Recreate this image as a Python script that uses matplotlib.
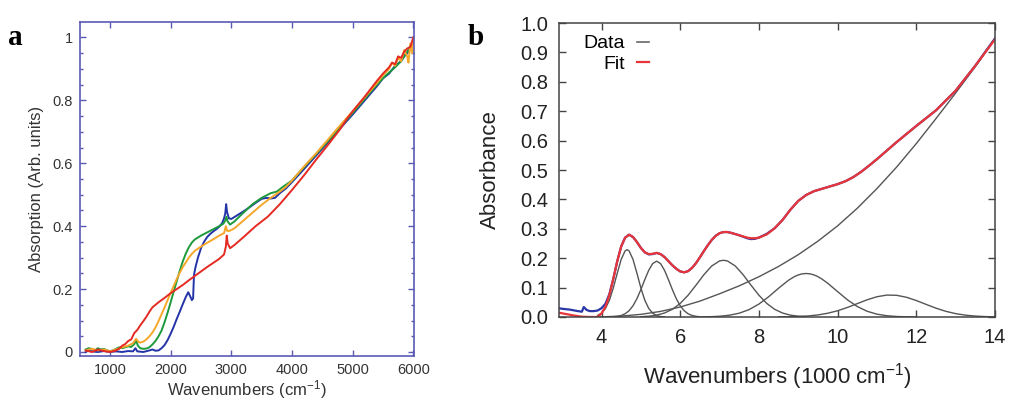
import matplotlib
matplotlib.use("Agg")
import matplotlib.pyplot as plt
from matplotlib.lines import Line2D
from matplotlib.ticker import MultipleLocator, FixedLocator

plt.rcParams['font.family'] = ['Liberation Sans', 'DejaVu Sans']
plt.rcParams['mathtext.fontset'] = 'custom'
plt.rcParams['mathtext.rm'] = 'Liberation Sans'
plt.rcParams['mathtext.it'] = 'Liberation Sans:italic'

# ---- panel a: four spectra (wavenumber in cm-1, absorption) ----
blue_x = [600, 650, 700, 800, 900, 1000, 1100, 1200, 1300, 1380, 1420, 1450, 1550, 1650, 1700,
          1750, 1800, 1850, 1900, 1950, 2000, 2050, 2100, 2150, 2200, 2250, 2290, 2320, 2350,
          2370, 2385, 2410, 2450, 2500, 2550, 2600, 2650, 2700, 2750, 2800, 2850, 2880, 2900,
          2915, 2930, 2960, 3000, 3100, 3200, 3300, 3400, 3500, 3580, 3650, 3720, 3800, 3900,
          4000, 4200, 4400, 4600, 4800, 5000, 5200, 5400, 5500, 5600, 5700, 5800, 5850, 5900,
          5950, 6000]
blue_y = [0.0, 0.005, 0.002, 0.0, 0.003, 0.0, 0.002, 0.0, 0.003, 0.002, 0.012, 0.002, 0.0, 0.005,
          0.008, 0.004, 0.005, 0.012, 0.022, 0.038, 0.058, 0.08, 0.105, 0.128, 0.152, 0.175, 0.19,
          0.178, 0.165, 0.17, 0.245, 0.27, 0.3, 0.33, 0.35, 0.365, 0.375, 0.383, 0.39, 0.398, 0.41,
          0.425, 0.44, 0.47, 0.445, 0.425, 0.423, 0.435, 0.447, 0.46, 0.474, 0.487, 0.49, 0.488,
          0.49, 0.505, 0.52, 0.54, 0.582, 0.625, 0.668, 0.712, 0.755, 0.8, 0.845, 0.87, 0.885,
          0.91, 0.925, 0.94, 0.95, 0.965, 0.98]

green_x = [600, 650, 700, 750, 800, 850, 900, 950, 1000, 1050, 1100, 1150, 1200, 1250, 1300, 1350,
           1400, 1430, 1460, 1500, 1550, 1600, 1650, 1700, 1750, 1800, 1850, 1900, 1950, 2000,
           2050, 2100, 2150, 2200, 2250, 2300, 2350, 2400, 2500, 2600, 2700, 2800, 2870, 2900,
           2920, 2940, 2980, 3050, 3200, 3350, 3500, 3650, 3750, 3850, 4000, 4200, 4400, 4600,
           4800, 5000, 5200, 5400, 5550, 5700, 5800, 5850, 5900, 5950, 6000]
green_y = [0.008, 0.012, 0.01, 0.005, 0.012, 0.008, 0.01, 0.005, 0.003, 0.005, 0.01, 0.015, 0.012,
           0.015, 0.018, 0.016, 0.025, 0.037, 0.02, 0.012, 0.01, 0.011, 0.015, 0.024, 0.035, 0.05,
           0.068, 0.095, 0.125, 0.158, 0.192, 0.225, 0.258, 0.288, 0.313, 0.333, 0.348, 0.358,
           0.37, 0.38, 0.39, 0.4, 0.408, 0.418, 0.43, 0.415, 0.405, 0.415, 0.443, 0.47, 0.49,
           0.505, 0.51, 0.525, 0.545, 0.588, 0.63, 0.672, 0.716, 0.76, 0.805, 0.85, 0.88, 0.905,
           0.925, 0.94, 0.955, 0.97, 0.99]

orange_x = [600, 700, 800, 900, 1000, 1100, 1200, 1300, 1380, 1430, 1470, 1500, 1550, 1600, 1650,
            1700, 1750, 1800, 1850, 1900, 1950, 2000, 2050, 2100, 2150, 2200, 2250, 2300, 2350,
            2400, 2500, 2600, 2700, 2800, 2880, 2910, 2930, 2970, 3050, 3200, 3350, 3500, 3650,
            3800, 3900, 4000, 4200, 4400, 4600, 4800, 5000, 5200, 5400, 5500, 5600, 5650, 5700,
            5750, 5800, 5850, 5900, 5920, 5950, 5980, 6000]
orange_y = [0.005, 0.01, 0.005, 0.008, 0.002, 0.008, 0.015, 0.02, 0.028, 0.042, 0.032, 0.03, 0.033,
            0.04, 0.05, 0.062, 0.078, 0.098, 0.12, 0.142, 0.165, 0.188, 0.21, 0.232, 0.252, 0.27,
            0.285, 0.3, 0.312, 0.322, 0.335, 0.347, 0.358, 0.37, 0.378, 0.4, 0.385, 0.385, 0.393,
            0.418, 0.443, 0.468, 0.49, 0.51, 0.525, 0.545, 0.59, 0.632, 0.677, 0.722, 0.765, 0.81,
            0.855, 0.88, 0.9, 0.92, 0.91, 0.935, 0.925, 0.96, 0.94, 0.92, 0.98, 0.95, 1.0]

red_x = [600, 700, 800, 900, 1000, 1100, 1150, 1200, 1250, 1300, 1350, 1400, 1450, 1500, 1550,
         1600, 1650, 1700, 1750, 1800, 1900, 2000, 2100, 2200, 2300, 2400, 2500, 2600, 2700, 2800,
         2880, 2910, 2925, 2940, 2980, 3050, 3200, 3400, 3600, 3800, 4000, 4200, 4400, 4600, 4800,
         4900, 5000, 5200, 5400, 5500, 5600, 5650, 5700, 5750, 5800, 5850, 5900, 5950, 6000]
red_y = [0.005, 0.0, 0.008, 0.003, 0.0, 0.005, 0.01, 0.02, 0.025, 0.035, 0.04, 0.06, 0.07, 0.085,
         0.098, 0.112, 0.128, 0.142, 0.15, 0.158, 0.172, 0.187, 0.2, 0.213, 0.228, 0.242, 0.256,
         0.27, 0.283, 0.296, 0.31, 0.335, 0.37, 0.345, 0.33, 0.34, 0.365, 0.4, 0.43, 0.47, 0.515,
         0.562, 0.612, 0.66, 0.71, 0.74, 0.765, 0.812, 0.862, 0.885, 0.905, 0.92, 0.915, 0.94,
         0.935, 0.955, 0.965, 0.97, 1.0]

# ---- panel b: data, fit and components (1000 cm-1, absorbance) ----
fit_x = [2.9, 3.1, 3.3, 3.5, 3.7, 3.9, 4.0, 4.1, 4.2, 4.3, 4.4, 4.5, 4.6, 4.7, 4.8, 4.9, 5.0, 5.1,
         5.2, 5.3, 5.4, 5.5, 5.6, 5.7, 5.8, 5.9, 6.0, 6.1, 6.2, 6.3, 6.4, 6.5, 6.6, 6.7, 6.8, 6.9,
         7.0, 7.1, 7.2, 7.3, 7.4, 7.5, 7.6, 7.7, 7.8, 7.9, 8.0, 8.2, 8.4, 8.6, 8.8, 9.0, 9.2, 9.4,
         9.6, 9.8, 10.0, 10.2, 10.4, 10.6, 10.8, 11.0, 11.5, 12.0, 12.5, 13.0, 13.5, 14.0]
fit_y = [0.015, 0.01, 0.005, 0.001, 0.0, 0.0, 0.012, 0.035, 0.075, 0.13, 0.19, 0.24, 0.27, 0.28,
         0.272, 0.255, 0.235, 0.22, 0.214, 0.215, 0.218, 0.214, 0.204, 0.19, 0.176, 0.164, 0.155,
         0.152, 0.156, 0.167, 0.183, 0.203, 0.224, 0.244, 0.262, 0.276, 0.285, 0.289, 0.289, 0.286,
         0.282, 0.278, 0.274, 0.27, 0.268, 0.268, 0.27, 0.281, 0.302, 0.33, 0.365, 0.395, 0.415,
         0.428, 0.436, 0.444, 0.452, 0.462, 0.476, 0.494, 0.515, 0.537, 0.595, 0.65, 0.703, 0.77,
         0.855, 0.945]

data_x = [2.9, 3.0, 3.2, 3.4, 3.5, 3.55, 3.62, 3.7, 3.8, 3.9, 4.0, 4.1, 4.2, 4.3, 4.4, 4.5, 4.6,
          4.7, 4.8, 4.9, 5.0, 5.1, 5.2, 5.3, 5.4, 5.5, 5.6, 5.7, 5.8, 5.9, 6.0, 6.1, 6.2, 6.3, 6.4,
          6.5, 6.6, 6.7, 6.8, 6.9, 7.0, 7.1, 7.2, 7.3, 7.4, 7.5, 7.6, 7.7, 7.8, 7.9, 8.0, 8.2, 8.4,
          8.6, 8.8, 9.0, 9.2, 9.4, 9.6, 9.8, 10.0, 10.2, 10.4, 10.6, 10.8, 11.0, 11.5, 12.0, 12.5,
          13.0, 13.5, 14.0]
data_y = [0.03, 0.028, 0.025, 0.02, 0.018, 0.034, 0.024, 0.02, 0.02, 0.022, 0.03, 0.045, 0.078,
          0.13, 0.19, 0.24, 0.27, 0.28, 0.272, 0.255, 0.235, 0.22, 0.213, 0.214, 0.218, 0.214,
          0.204, 0.19, 0.176, 0.164, 0.155, 0.152, 0.156, 0.167, 0.183, 0.203, 0.224, 0.244,
          0.262, 0.276, 0.285, 0.289, 0.289, 0.286, 0.282, 0.278, 0.273, 0.268, 0.265, 0.266,
          0.27, 0.283, 0.302, 0.33, 0.365, 0.395, 0.415, 0.428, 0.436, 0.444, 0.452, 0.462, 0.476,
          0.494, 0.515, 0.537, 0.595, 0.65, 0.703, 0.77, 0.855, 0.948]

base_x = [3.9, 4.0, 4.5, 5.0, 5.5, 6.0, 6.5, 7.0, 7.5, 8.0, 8.5, 9.0, 9.5, 10.0, 10.5, 11.0, 11.5,
          12.0, 12.5, 13.0, 13.5, 14.0]
base_y = [0.0, 0.0005, 0.003, 0.009, 0.019, 0.034, 0.054, 0.079, 0.106, 0.137, 0.172, 0.212, 0.258,
          0.31, 0.37, 0.437, 0.51, 0.59, 0.675, 0.762, 0.852, 0.945]

g1_x = [3.9, 4.0, 4.1, 4.2, 4.3, 4.4, 4.5, 4.6, 4.65, 4.7, 4.8, 4.9, 5.0, 5.1, 5.2, 5.3, 5.4, 5.5,
        5.6]
g1_y = [0.005, 0.013, 0.029, 0.057, 0.099, 0.149, 0.196, 0.225, 0.229, 0.225, 0.196, 0.149, 0.099,
        0.057, 0.029, 0.013, 0.005, 0.0016, 0.0004]

g2_x = [4.3, 4.4, 4.5, 4.6, 4.7, 4.8, 4.9, 5.0, 5.1, 5.2, 5.3, 5.4, 5.5, 5.6, 5.7, 5.8, 5.9, 6.0,
        6.1, 6.2, 6.3, 6.4, 6.5]
g2_y = [0.0009, 0.0022, 0.0052, 0.011, 0.0214, 0.0382, 0.0624, 0.0932, 0.1273, 0.159, 0.1817,
        0.19, 0.1817, 0.159, 0.1273, 0.0932, 0.0624, 0.0382, 0.0214, 0.011, 0.0052, 0.0022, 0.0009]

g3_x = [5.0, 5.2, 5.4, 5.6, 5.8, 6.0, 6.2, 6.4, 6.6, 6.8, 7.0, 7.1, 7.2, 7.4, 7.6, 7.8, 8.0, 8.2,
        8.4, 8.6, 8.8, 9.0, 9.2]
g3_y = [0.001, 0.0027, 0.0063, 0.0135, 0.0261, 0.0461, 0.074, 0.108, 0.1436, 0.1735, 0.1907,
        0.193, 0.1907, 0.1735, 0.1436, 0.108, 0.074, 0.0461, 0.0261, 0.0135, 0.0063, 0.0027, 0.001]

g4_x = [6.5, 6.75, 7.0, 7.25, 7.5, 7.75, 8.0, 8.25, 8.5, 8.75, 8.9, 9.0, 9.1, 9.2, 9.3, 9.4, 9.5,
        9.6, 9.75, 10.0, 10.25, 10.5, 10.75, 11.0, 11.25, 11.5, 11.75, 12.0]
g4_y = [0.0003, 0.0009, 0.0025, 0.006, 0.0129, 0.0251, 0.044, 0.0691, 0.0979, 0.1248, 0.1372,
        0.1431, 0.1468, 0.148, 0.1468, 0.1431, 0.1372, 0.1293, 0.1147, 0.0863, 0.0584, 0.0356,
        0.0195, 0.0096, 0.0043, 0.0017, 0.0006, 0.0002]

g5_x = [8.5, 8.75, 9.0, 9.25, 9.5, 9.75, 10.0, 10.25, 10.5, 10.75, 11.0, 11.25, 11.5, 11.75, 12.0,
        12.25, 12.5, 12.75, 13.0, 13.25, 13.5, 13.75, 14.0]
g5_y = [0.0003, 0.0007, 0.0016, 0.0035, 0.007, 0.0128, 0.0212, 0.0325, 0.0455, 0.0585, 0.0689,
        0.0745, 0.0738, 0.0671, 0.056, 0.0428, 0.03, 0.0193, 0.0114, 0.0062, 0.0031, 0.0014, 0.0006]

fig = plt.figure(figsize=(10.12, 4.01), dpi=100)

# panel a
spine_a = '#5a5ab4'
axa = fig.add_axes([0.079, 0.112, 0.330, 0.833])
axa.plot(blue_x, blue_y, color='#2434a8', lw=1.4)
axa.plot(green_x, green_y, color='#1d9a3c', lw=1.4)
axa.plot(orange_x, orange_y, color='#f5a72a', lw=1.4)
axa.plot(red_x, red_y, color='#e42a22', lw=1.4)
axa.set_xlim(505, 6010)
axa.set_ylim(-0.013, 1.049)
axa.xaxis.set_major_locator(FixedLocator([1000, 2000, 3000, 4000, 5000, 6000]))
axa.yaxis.set_major_locator(FixedLocator([0, 0.2, 0.4, 0.6, 0.8, 1.0]))
axa.yaxis.set_minor_locator(MultipleLocator(0.05))
axa.set_yticklabels(['0', '0.2', '0.4', '0.6', '0.8', '1'])
for s in axa.spines.values():
    s.set_color(spine_a)
    s.set_linewidth(1.2)
axa.tick_params(which='both', direction='in', top=True, right=True, color=spine_a,
                labelsize=10.5, labelcolor='#333333', pad=5)
axa.tick_params(which='major', length=4, width=1)
axa.tick_params(which='minor', length=2.5, width=1)
axa.set_xlabel('Wavenumbers (cm$^{-1}$)', fontsize=12, color='#333333', labelpad=1)
axa.set_ylabel('Absorption (Arb. units)', fontsize=12, color='#333333', labelpad=6)

# panel b
spine_b = '#444444'
axb = fig.add_axes([0.5524, 0.2095, 0.4308, 0.733])
for gx, gy in [(g1_x, g1_y), (g2_x, g2_y), (g3_x, g3_y), (g4_x, g4_y), (g5_x, g5_y),
               (base_x, base_y)]:
    axb.plot(gx, gy, color='#555555', lw=1.0)
axb.plot(data_x, data_y, color='#2a36a8', lw=1.6)
axb.plot(fit_x, fit_y, color='#e8353a', lw=1.6)
axb.set_xlim(2.92, 14)
axb.set_ylim(0, 1.0)
axb.xaxis.set_major_locator(MultipleLocator(2))
axb.yaxis.set_major_locator(MultipleLocator(0.1))
axb.yaxis.set_major_formatter(plt.FormatStrFormatter('%.1f'))
for s in axb.spines.values():
    s.set_color(spine_b)
    s.set_linewidth(1.1)
axb.tick_params(direction='in', top=True, right=True, length=5, width=1, color=spine_b,
                labelsize=14.5, labelcolor='#222222', pad=8)
axb.set_xlabel('Wavenumbers (1000 cm$^{-1}$)', fontsize=16, color='#222222', labelpad=10)
axb.set_ylabel('Absorbance', fontsize=16, color='#222222', labelpad=14)
handles = [Line2D([], [], color='#666666', lw=1.2), Line2D([], [], color='#e8353a', lw=1.6)]
axb.legend(handles, ['Data', 'Fit'], loc='upper left', bbox_to_anchor=(0.03, 1.0),
           frameon=False, markerfirst=False, fontsize=14, handlelength=0.6,
           handletextpad=0.6, labelspacing=0.15, borderaxespad=0.2)

fig.text(0.008, 0.888, 'a', fontsize=21, weight='bold', family='Liberation Serif')
fig.text(0.462, 0.888, 'b', fontsize=21, weight='bold', family='Liberation Serif')

fig.savefig('out.png', dpi=100)
